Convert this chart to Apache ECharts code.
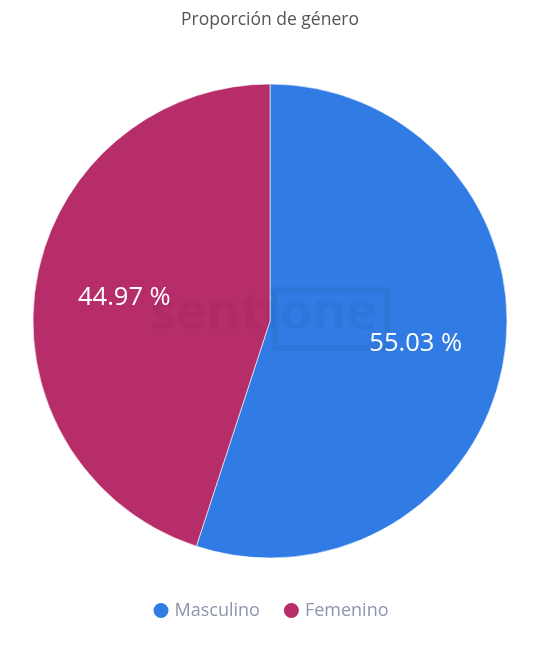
<!DOCTYPE html>
<html><head><meta charset="utf-8">
<script src="https://cdn.jsdelivr.net/npm/echarts@6/dist/echarts.min.js"></script>
<style>html,body{margin:0;padding:0;background:#fff}#c{width:540px;height:650px}</style>
</head><body><div id="c"></div>
<script>
const categories = ['Masculino', 'Femenino'];
const values = [55.03, 44.97];
const colors = ['#317be4', '#b72d6a'];
const title = 'Proporción de género';

const data = categories.map((n, i) => ({ name: n, value: values[i], itemStyle: { color: colors[i] } }));
const chart = echarts.init(document.getElementById('c'));
chart.setOption({
  animation: false,
  textStyle: { fontFamily: 'Open Sans' },
  title: { text: title, left: 'center', top: 6, textStyle: { fontSize: 17.5, fontWeight: 'normal', color: '#555', fontFamily: 'Open Sans' } },
  legend: {
    bottom: 25, left: 'center', icon: 'circle', itemWidth: 17, itemHeight: 17, itemGap: 22,
    textStyle: { fontSize: 18, color: '#8f95aa', fontFamily: 'Open Sans' },
    data: categories
  },
  graphic: [
    { type: 'text', left: 150, top: 288, silent: true, z: 100,
      style: { text: 'senti', fontSize: 52, fontWeight: 'bold', fill: 'rgba(0,0,0,0.04)', fontFamily: 'Open Sans' } },
    { type: 'rect', left: 272, top: 287, silent: true, z: 100,
      shape: { width: 112, height: 58 }, style: { fill: 'none', stroke: 'rgba(0,0,0,0.04)', lineWidth: 6 } },
    { type: 'text', left: 280, top: 288, silent: true, z: 100,
      style: { text: 'one', fontSize: 52, fontWeight: 'bold', fill: 'rgba(0,0,0,0.04)', fontFamily: 'Open Sans' } }
  ],
  series: [
    {
      type: 'pie', center: [270, 321], radius: [0, 237], startAngle: 90, clockwise: true,
      label: { show: false }, labelLine: { show: false }, silent: true,
      itemStyle: { borderColor: '#fff', borderWidth: 0.6 },
      data: data
    },
    {
      type: 'pie', center: [270, 321], radius: [52, 237], startAngle: 90, clockwise: true,
      silent: true, z: 200, legendHoverLink: false,
      itemStyle: { color: 'rgba(0,0,0,0)' },
      label: { show: true, position: 'inside', formatter: p => p.value.toFixed(2) + ' %', color: '#fff', fontSize: 25.5, fontFamily: 'Open Sans' },
      labelLine: { show: false },
      data: categories.map((n, i) => ({ name: n, value: values[i] }))
    }
  ]
});
</script></body></html>
